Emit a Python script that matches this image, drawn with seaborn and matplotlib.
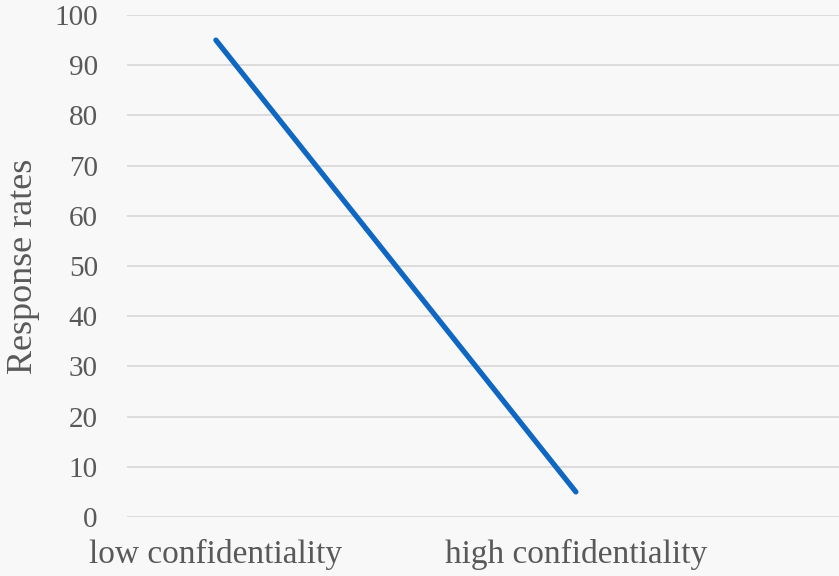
import matplotlib
matplotlib.use("Agg")
import matplotlib.pyplot as plt
import seaborn as sns
import pandas as pd

categories = ["low confidentiality", "high confidentiality"]
response_rates = [95, 5]
y_ticks = [0, 10, 20, 30, 40, 50, 60, 70, 80, 90, 100]

sns.set_theme(style="white")
plt.rcParams["font.family"] = ["Liberation Serif", "DejaVu Serif"]

df = pd.DataFrame({"pos": range(len(categories)), "rate": response_rates})

fig = plt.figure(figsize=(8.39, 5.76), dpi=100, facecolor="#f8f8f8")
ax = fig.add_axes([127 / 839, 1 - 517 / 576, 712 / 839, 502 / 576])
ax.set_facecolor("none")

sns.lineplot(data=df, x="pos", y="rate", ax=ax, color="#0f67c2",
             linewidth=3.8, solid_capstyle="round")

ax.set_xlim(-0.247, 1.731)
ax.set_ylim(0, 100)
ax.set_yticks(y_ticks)
ax.set_yticklabels([str(t) for t in y_ticks], fontsize=21, color="#595959")
ax.set_xticks(range(len(categories)))
ax.set_xticklabels(categories, fontsize=24, color="#595959")
ax.tick_params(axis="y", length=0, pad=21)
ax.tick_params(axis="x", length=0, pad=16)

ax.grid(axis="y", color="#d9d9d9", linewidth=1.3)
ax.set_axisbelow(True)
for s in ax.spines.values():
    s.set_visible(False)

ax.set_xlabel("")
ax.set_ylabel("Response rates", fontsize=26, color="#595959", labelpad=10)

fig.savefig("out.png", dpi=100, facecolor=fig.get_facecolor())
